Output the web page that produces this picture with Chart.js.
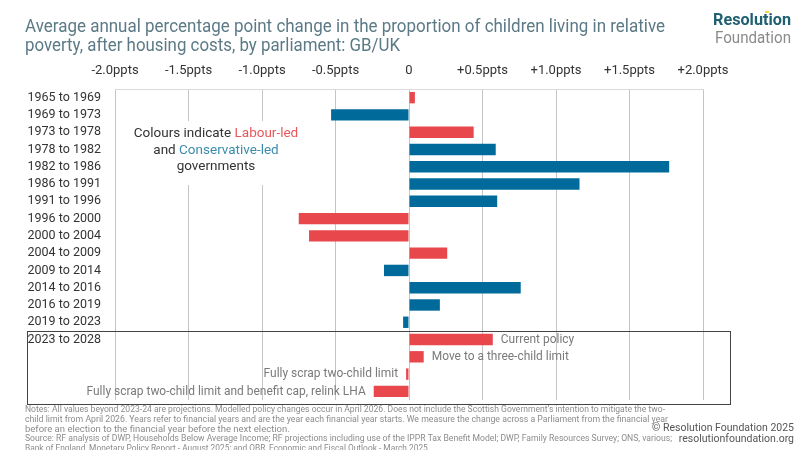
<!DOCTYPE html>
<html>
<head>
<meta charset="utf-8">
<script src="https://cdn.jsdelivr.net/npm/chart.js@4.4.1/dist/chart.umd.min.js"></script>
<style>
  body { margin: 0; background: #fff; }
  #wrap { position: relative; width: 800px; height: 450px; }
</style>
</head>
<body>
<div id="wrap"><canvas id="poverty-chart" width="800" height="450"></canvas></div>
<script>
// parliaments and their average annual ppt change
const parliaments = ['1965 to 1969', '1969 to 1973', '1973 to 1978', '1978 to 1982', '1982 to 1986',
    '1986 to 1991', '1991 to 1996', '1996 to 2000', '2000 to 2004', '2004 to 2009', '2009 to 2014',
    '2014 to 2016', '2016 to 2019', '2019 to 2023', '2023 to 2028', '', '', ''];
const changes = [0.04, -0.53, 0.44, 0.59, 1.77, 1.16, 0.60, -0.75, -0.68, 0.26, -0.17, 0.76, 0.21, -0.04,
    0.57, 0.10, -0.02, -0.24];
const govt = ['lab', 'con', 'lab', 'con', 'con', 'con', 'con', 'lab', 'lab', 'lab', 'con', 'con', 'con', 'con',
    'lab', 'lab', 'lab', 'lab'];
const scenarios = ['Current policy', 'Move to a three-child limit', 'Fully scrap two-child limit',
    'Fully scrap two-child limit and benefit cap, relink LHA'];
const xTicks = [-2, -1.5, -1, -0.5, 0, 0.5, 1, 1.5, 2];

const RED = '#e8474c';
const BLUE = '#006a9b';
const FONT = 'Roboto, "Noto Sans", sans-serif';

const notes = [
    'Notes: All values beyond 2023-24 are projections. Modelled policy changes occur in April 2026. Does not include the Scottish Government\u2019s intention to mitigate the two-',
    'child limit from April 2026. Years refer to financial years and are the year each financial year starts. We measure the change across a Parliament from the financial year',
    'before an election to the financial year before the next election.',
    'Source: RF analysis of DWP, Households Below Average Income; RF projections including use of the IPPR Tax Benefit Model; DWP, Family Resources Survey; ONS, various;',
    'Bank of England, Monetary Policy Report - August 2025; and OBR, Economic and Fiscal Outlook - March 2025.'
];

function tickText(v) {
    if (v === 0) return '0';
    let s = Math.abs(v).toFixed(1) + 'ppts';
    return (v > 0 ? '+' : '-') + s;
}

// draw text a bit narrower, like the condensed face of the original
function narrowText(ctx, txt, x, y) {
    ctx.fillText(txt, x, y, ctx.measureText(txt).width * 0.92);
}

// everything that is not a bar or tick
const extras = {
    id: 'extras',
    beforeDatasetsDraw(chart) {
        const ctx = chart.ctx;
        ctx.save();
        // annotation box about colours
        ctx.fillStyle = '#fff';
        ctx.fillRect(128, 121, 180, 64);
        ctx.font = '13.5px ' + FONT;
        ctx.textBaseline = 'middle';
        ctx.textAlign = 'left';
        let a = 'Colours indicate ', b = 'Labour-led';
        let w1 = ctx.measureText(a).width, w2 = ctx.measureText(b).width;
        let x0 = 216 - (w1 + w2) / 2;
        ctx.fillStyle = '#333'; ctx.fillText(a, x0, 134);
        ctx.fillStyle = '#e9575b'; ctx.fillText(b, x0 + w1, 134);
        a = 'and '; b = 'Conservative-led';
        w1 = ctx.measureText(a).width; w2 = ctx.measureText(b).width;
        x0 = 216 - (w1 + w2) / 2;
        ctx.fillStyle = '#333'; ctx.fillText(a, x0, 151);
        ctx.fillStyle = '#3b8cab'; ctx.fillText(b, x0 + w1, 151);
        ctx.textAlign = 'center';
        ctx.fillStyle = '#333'; ctx.fillText('governments', 216, 167);
        ctx.restore();
    },
    afterDraw(chart) {
        const ctx = chart.ctx;
        ctx.save();
        // title
        ctx.fillStyle = '#5b7a86';
        ctx.font = '17.5px ' + FONT;
        ctx.textBaseline = 'middle';
        ctx.fillText('Average annual percentage point change in the proportion of children living in relative', 25, 28, 640);
        ctx.fillText('poverty, after housing costs, by parliament: GB/UK', 25, 47, 375);
        // logo
        ctx.textAlign = 'right';
        ctx.font = 'bold 17px ' + FONT;
        ctx.fillStyle = '#1e5f70';
        ctx.fillText('Resolution', 791, 21, 78);
        ctx.font = '16px ' + FONT;
        ctx.fillStyle = '#8a8a8a';
        ctx.fillText('Foundation', 791, 39, 76);
        ctx.fillStyle = '#f2d64b';
        ctx.fillRect(765, 11, 4, 2);
        // projection box
        ctx.strokeStyle = '#444';
        ctx.lineWidth = 1;
        ctx.strokeRect(27.5, 331.5, 703, 73);
        // scenario labels next to the bars
        const meta = chart.getDatasetMeta(0);
        ctx.font = '13px ' + FONT;
        ctx.fillStyle = '#7a7a7a';
        scenarios.forEach((txt, i) => {
            const bar = meta.data[14 + i];
            const v = changes[14 + i];
            if (v >= 0) {
                ctx.textAlign = 'left';
                narrowText(ctx, txt, bar.x + 8, bar.y);
            } else {
                ctx.textAlign = 'right';
                narrowText(ctx, txt, bar.x - 8, bar.y);
            }
        });
        // notes and credits
        ctx.textAlign = 'left';
        ctx.font = '9.5px ' + FONT;
        ctx.fillStyle = '#8c8c8c';
        const widths = [640, 643, 287, 647, 405];
        notes.forEach((t, i) => ctx.fillText(t, 25, 410 + i * 9.6, widths[i]));
        ctx.textAlign = 'right';
        ctx.font = '10.5px ' + FONT;
        ctx.fillStyle = '#555';
        ctx.fillText('\u00a9 Resolution Foundation 2025', 794, 428, 142);
        ctx.fillText('resolutionfoundation.org', 794, 439, 118);
        ctx.restore();
    }
};

const ctx = document.querySelector('#poverty-chart').getContext('2d');
new Chart(ctx, {
    type: 'bar',
    data: {
        labels: parliaments,
        datasets: [{
            data: changes,
            backgroundColor: govt.map(g => g === 'lab' ? RED : BLUE),
            barPercentage: 0.66,
            categoryPercentage: 1
        }]
    },
    options: {
        indexAxis: 'y',
        responsive: false,
        animation: false,
        layout: { padding: { top: 0, right: 97, bottom: 50, left: 0 } },
        plugins: { legend: { display: false }, tooltip: { enabled: false } },
        scales: {
            x: {
                position: 'top',
                min: -2, max: 2,
                afterBuildTicks: s => { s.ticks = xTicks.map(v => ({ value: v })); },
                afterFit: s => { s.height = 89; },
                ticks: {
                    callback: v => tickText(v),
                    color: '#333',
                    font: { family: FONT, size: 13 },
                    padding: 10,
                    maxRotation: 0
                },
                grid: { color: '#c4c4c4', borderDash: [3, 3], drawTicks: false },
                border: { display: true, color: '#d9d9d9' }
            },
            y: {
                afterFit: s => { s.width = 115; },
                ticks: {
                    color: '#333',
                    font: { family: FONT, size: 12.5 },
                    padding: 14,
                    autoSkip: false
                },
                grid: { display: false, drawTicks: false },
                border: { display: false }
            }
        }
    },
    plugins: [extras]
});
</script>
</body>
</html>
